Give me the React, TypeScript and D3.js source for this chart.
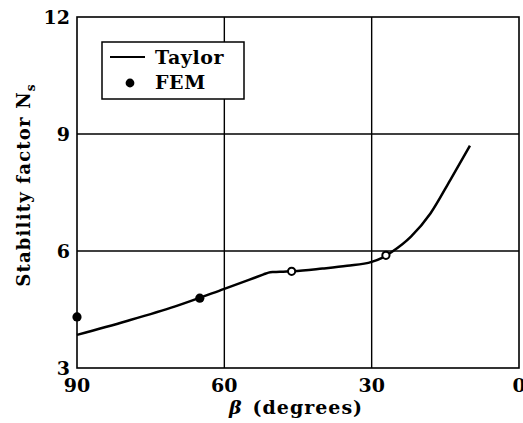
import React, { useEffect, useRef } from 'react'
import * as d3 from 'd3'

// Taylor curve (beta in degrees, Ns)
const taylorBeta = [90, 80, 70, 60, 55, 52, 51, 50, 48, 46, 40, 35, 30, 28, 26, 22, 18, 14, 10]
const taylorNs = [3.85, 4.2, 4.58, 5.03, 5.26, 5.4, 5.445, 5.46, 5.47, 5.48, 5.55, 5.62, 5.72, 5.82, 5.97, 6.37, 6.97, 7.82, 8.7]

// FEM points
const femBeta = [90, 65, 46.3, 27.1]
const femNs = [4.31, 4.79, 5.48, 5.89]
const femFilled = [true, true, false, false]

const xTicks = [90, 60, 30, 0]
const yTicks = [3, 6, 9, 12]

export default function App() {
  const ref = useRef<SVGSVGElement>(null)

  useEffect(() => {
    const svg = d3.select(ref.current)
    svg.selectAll('*').remove()
    const font = '"DejaVu Serif", serif'

    const x = d3.scaleLinear().domain([90, 0]).range([77, 519])
    const y = d3.scaleLinear().domain([3, 12]).range([368, 17])

    const g = svg.append('g')

    // grid
    g.selectAll('.vg').data([60, 30]).enter().append('line')
      .attr('x1', d => x(d)).attr('x2', d => x(d))
      .attr('y1', y(3)).attr('y2', y(12))
      .attr('stroke', '#000').attr('stroke-width', 1.4)
    g.selectAll('.hg').data([6, 9]).enter().append('line')
      .attr('x1', x(90)).attr('x2', x(0))
      .attr('y1', d => y(d)).attr('y2', d => y(d))
      .attr('stroke', '#000').attr('stroke-width', 1.4)

    // frame
    g.append('rect')
      .attr('x', x(90)).attr('y', y(12))
      .attr('width', x(0) - x(90)).attr('height', y(3) - y(12))
      .attr('fill', 'none').attr('stroke', '#000').attr('stroke-width', 1.6)

    // tick labels
    g.selectAll('.xt').data(xTicks).enter().append('text')
      .attr('x', d => x(d)).attr('y', 392)
      .attr('text-anchor', 'middle')
      .attr('font-family', font).attr('font-weight', 'bold').attr('font-size', 19)
      .text(d => d)
    g.selectAll('.yt').data(yTicks).enter().append('text')
      .attr('x', 70).attr('y', d => y(d) + 7)
      .attr('text-anchor', 'end')
      .attr('font-family', font).attr('font-weight', 'bold').attr('font-size', 19)
      .text(d => d)

    // axis titles
    const xl = g.append('text')
      .attr('x', 296).attr('y', 414)
      .attr('text-anchor', 'middle')
      .attr('font-family', font).attr('font-weight', 'bold').attr('font-size', 19)
      .attr('letter-spacing', 1)
    xl.append('tspan').attr('font-style', 'italic').text('β')
    xl.append('tspan').attr('dx', 10).text('(degrees)')

    const yl = g.append('text')
      .attr('transform', 'translate(30,185) rotate(-90)')
      .attr('text-anchor', 'middle')
      .attr('font-family', font).attr('font-weight', 'bold').attr('font-size', 18)
      .attr('letter-spacing', 1.2)
    yl.append('tspan').text('Stability factor N')
    yl.append('tspan').attr('font-size', 12).attr('dy', 5).text('s')

    // Taylor line
    const pts = taylorBeta.map((b, i) => [b, taylorNs[i]] as [number, number])
    g.append('path')
      .datum(pts)
      .attr('d', d3.line<[number, number]>().x(d => x(d[0])).y(d => y(d[1])).curve(d3.curveMonotoneX))
      .attr('fill', 'none').attr('stroke', '#000').attr('stroke-width', 2.5)

    // FEM points
    g.selectAll('.fem').data(femBeta).enter().append('circle')
      .attr('cx', d => x(d)).attr('cy', (d, i) => y(femNs[i]))
      .attr('r', (d, i) => femFilled[i] ? 4.6 : 3.6)
      .attr('fill', (d, i) => femFilled[i] ? '#000' : '#fff')
      .attr('stroke', '#000').attr('stroke-width', (d, i) => femFilled[i] ? 0 : 2)

    // legend
    const lg = g.append('g')
    lg.append('rect').attr('x', 102).attr('y', 42).attr('width', 142).attr('height', 57)
      .attr('fill', '#fff').attr('stroke', '#000').attr('stroke-width', 1.5)
    lg.append('line').attr('x1', 110).attr('x2', 145).attr('y1', 57).attr('y2', 57)
      .attr('stroke', '#000').attr('stroke-width', 2)
    lg.append('text').attr('x', 155).attr('y', 64)
      .attr('font-family', font).attr('font-weight', 'bold').attr('font-size', 19)
      .attr('letter-spacing', 0.6)
      .text('Taylor')
    lg.append('circle').attr('cx', 130).attr('cy', 83).attr('r', 4.4).attr('fill', '#000')
    lg.append('text').attr('x', 155).attr('y', 89)
      .attr('font-family', font).attr('font-weight', 'bold').attr('font-size', 19)
      .attr('letter-spacing', 0.6)
      .text('FEM')
  }, [])

  return <svg ref={ref} width={523} height={423} style={{ position: 'absolute', left: 0, top: 0, background: '#fff' }} />
}
